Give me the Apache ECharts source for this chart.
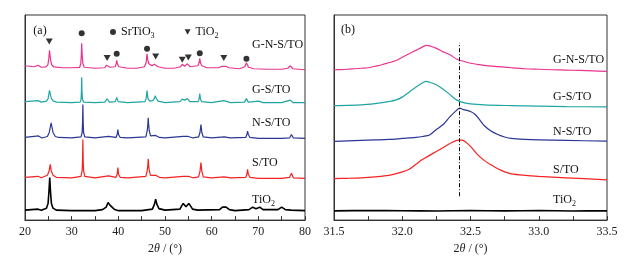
<!DOCTYPE html>
<html><head><meta charset="utf-8">
<script src="https://cdn.jsdelivr.net/npm/echarts@6/dist/echarts.min.js"></script>
<style>html,body{margin:0;padding:0;background:#fff}#c{width:624px;height:260px}</style>
</head><body><div id="c"></div>
<script>
// ---------- Panel (a): XRD patterns, 2θ 20–80°, intensity (a.u., stacked offsets) ----------
const aXTicks = [20, 30, 40, 50, 60, 70, 80];
const aGNSTO = [[20,155],[21,154.5],[22,154],[22.8,155.5],[23.5,153.5],[24.5,153.8],[24.9,156],[25.1,162],[25.25,170.5],[25.45,162],[25.7,156],[26.2,153.8],[28,153],[30,153],[31.7,153.3],[31.95,157],[32.07,166],[32.15,177.5],[32.25,166],[32.4,157],[32.7,153.5],[35,152.5],[37.1,153],[37.45,155.5],[37.6,157],[37.8,155],[38.2,153.5],[39.3,154],[39.55,157],[39.65,160.5],[39.8,157],[40.1,154],[42,152.5],[44,152.5],[45.6,154],[45.95,158],[46.05,163],[46.15,167],[46.3,161],[46.55,157],[47.2,155],[47.7,156.5],[47.9,158.5],[48.1,157],[48.5,154],[50,152.5],[52,152.5],[53.3,154],[53.7,156.5],[54.2,154.5],[54.8,157],[55.4,154],[57.05,155],[57.3,158],[57.45,162.5],[57.6,158],[57.9,155],[59,153],[61.5,153],[62.2,154.5],[62.6,155.5],[63.0,154.5],[63.7,153],[66,152],[67.1,154],[67.35,156],[67.45,158],[67.6,156],[67.9,153.5],[69,152],[72,151.5],[75,151.5],[76.3,152.5],[76.85,155],[77.4,152],[80,151]];
const aGSTO = [[20,119],[22.8,120],[23.5,118.5],[24.6,119.5],[24.95,122],[25.1,126],[25.25,130.3],[25.45,126],[25.65,122],[26.1,119.5],[26.8,118.5],[30,118],[31.8,118.5],[32.0,121],[32.08,128],[32.15,143.5],[32.22,128],[32.32,121],[32.6,118.5],[35,118],[37.1,118.5],[37.6,121.7],[38.1,118.5],[39.35,119],[39.65,123.3],[39.95,119],[42,118],[45.7,119],[45.95,122],[46.15,130],[46.35,122],[46.7,119.5],[47.4,120],[47.75,122.5],[47.9,125],[48.1,122.5],[48.5,119.5],[50,118],[53.2,119],[53.7,121.5],[54.2,120.5],[54.8,122],[55.3,119],[57.1,119],[57.3,121.5],[57.45,127],[57.6,121.5],[57.85,119],[60,118],[62.6,120],[64,118],[67.05,118.5],[67.45,122],[67.85,118.5],[70.1,119.5],[71,118],[75,118],[76.85,120.5],[77.4,118],[80,118]];
const aNSTO = [[20,83],[22.9,84.5],[23.6,82.5],[24.8,84],[25.2,88],[25.4,93],[25.6,97.7],[25.8,93],[26.0,88],[26.5,84],[27.2,83],[30,82.5],[32.0,83.5],[32.25,88],[32.33,98],[32.4,116],[32.47,98],[32.55,88],[32.8,83.5],[35,82.5],[37.9,84],[39.5,83],[39.75,86],[39.9,91],[40.05,86],[40.4,83],[42,82.5],[45.9,83.5],[46.2,90],[46.32,96],[46.4,102.7],[46.5,96],[46.62,90],[46.9,84.5],[48.0,85],[48.8,83],[50,82.5],[53.9,84],[55.0,84],[56,82.5],[57.2,83.5],[57.5,88],[57.7,96],[57.9,88],[58.2,83.5],[60,82.5],[62.7,83.5],[64,82.5],[67.3,83],[67.55,86],[67.7,89.3],[67.85,86],[68.2,83],[70,82],[75,82],[76.7,82.5],[77.1,86],[77.5,82.5],[80,82]];
const aSTO = [[20,43],[22.8,44],[23.5,42.5],[24.8,45],[25.15,49],[25.4,56],[25.65,49],[26.0,45],[26.7,43],[30,42.5],[32.0,44],[32.25,50],[32.33,60],[32.4,81],[32.47,60],[32.55,50],[32.8,44],[35,42.5],[37.9,44.5],[39.5,43],[39.75,46],[39.9,52.7],[40.05,46],[40.4,43],[42,42.5],[45.9,44],[46.2,50],[46.32,55],[46.4,61.7],[46.5,55],[46.62,50],[46.9,45],[48.0,45],[48.8,43],[50,42.5],[53.9,44],[55.0,44],[56,42.5],[57.2,43.5],[57.5,49],[57.7,57.7],[57.9,49],[58.2,43.5],[60,42.5],[62.7,43.5],[64,42.5],[67.3,43],[67.55,46],[67.7,51],[67.85,46],[68.2,43],[70,42],[75,42],[76.7,43],[77.1,47],[77.5,42.5],[80,42]];
const aTiO2 = [[20,10],[22.8,11],[23.5,10],[24.6,12],[24.95,17],[25.15,30],[25.3,42.7],[25.45,30],[25.65,17],[26.0,12],[26.7,10],[30,9.5],[35,9.5],[36.6,10.5],[37.0,12],[37.4,13],[37.8,17.7],[38.2,15],[38.6,15.5],[39.1,11],[40,9.5],[45,9.5],[47.3,11],[47.75,16],[48.0,21],[48.25,16],[48.7,11.5],[50,10],[53.2,11],[53.6,14.5],[53.9,16.7],[54.5,13.5],[55.1,16.7],[55.5,14],[55.9,11],[57,10],[61.7,10.5],[62.3,13],[62.7,15],[63.1,13],[63.8,10.5],[65,9.5],[68.0,10.5],[68.8,13],[69.5,11.5],[70.3,13],[71.0,10.5],[74.2,10.5],[75.0,13],[75.8,10.5],[77,10],[80,9.5]];
// phase markers (peak identification above the top pattern)
const srTiO3Peaks = [[32.15,187.7],[39.65,167],[46.15,172],[57.45,167.7],[67.45,162]];
const tiO2Peaks = [[25.2,179.3],[37.6,162.7],[48.0,164.3],[53.7,161],[55.0,163.3],[62.6,162.7]];

// ---------- Panel (b): zoom on SrTiO3 (110) peak, 2θ 31.5–33.5° ----------
const bXTicks = [31.5, 32.0, 32.5, 33.0, 33.5];
const bGNSTO = [[31.5,151],[31.55,151.2],[31.6,151.5],[31.65,152],[31.7,152.5],[31.75,153],[31.8,154.5],[31.85,156],[31.9,158],[31.95,160],[32.0,163.5],[32.05,167],[32.1,170.5],[32.15,174],[32.175,175.5],[32.2,175],[32.25,172.5],[32.3,169],[32.35,166],[32.4,161.5],[32.45,159.5],[32.5,157.5],[32.55,156.5],[32.6,155.5],[32.7,154.2],[32.8,153],[32.9,152],[33.0,151.5],[33.1,151],[33.2,150.7],[33.3,150.3],[33.4,149.8],[33.5,149.3]];
const bGSTO = [[31.5,115],[31.6,115.2],[31.7,115.7],[31.8,117],[31.85,118],[31.9,119],[31.95,120.5],[32.0,123.5],[32.05,128.5],[32.1,133.5],[32.15,138],[32.175,139.3],[32.2,138.5],[32.25,136],[32.3,131.5],[32.35,126],[32.4,120.5],[32.45,118],[32.5,116.7],[32.6,115.7],[32.8,115],[33.0,114.5],[33.2,114],[33.5,113.7]];
const bNSTO = [[31.5,79],[31.6,79.5],[31.7,80],[31.8,80.5],[31.9,81],[32.0,82],[32.1,83],[32.15,84],[32.2,85.5],[32.25,91],[32.3,96],[32.35,104],[32.4,110.5],[32.42,112.5],[32.45,111],[32.48,110],[32.5,109],[32.53,106.5],[32.56,102],[32.6,95],[32.65,89.5],[32.7,86],[32.75,83.5],[32.8,82],[32.9,81],[33.0,80.5],[33.2,80],[33.5,79.3]];
const bSTO = [[31.5,41.7],[31.6,42],[31.7,42.5],[31.8,43.5],[31.9,45],[32.0,48.5],[32.05,51],[32.1,56],[32.15,61],[32.2,65],[32.25,69],[32.3,73],[32.35,77],[32.4,80],[32.43,80.3],[32.46,79],[32.5,74],[32.55,66],[32.6,60],[32.65,55.5],[32.7,51.5],[32.75,48.5],[32.8,46.5],[32.9,45],[33.0,44],[33.2,42.5],[33.5,40.5]];
const bTiO2 = [[31.5,9.3],[31.75,9.6],[32.0,9.4],[32.25,9.2],[32.5,9.5],[32.75,9.3],[33.0,9.5],[33.25,9.2],[33.5,9.3]];
const refPeak = 32.42;           // dashed reference position
const refSpan = [24, 178];       // dashed line extent (intensity units)

const sampleNames = ['G-N-S/TO', 'G-S/TO', 'N-S/TO', 'S/TO', 'TiO{s|2}'];
const colors = ['#e8338f', '#1fa5a3', '#2a3796', '#f52222', '#000000'];

const FONT = '"Liberation Serif", "Times New Roman", serif';
const subRich = { s: { fontSize: 8, fontFamily: FONT, color: '#111', padding: [7, 0, 0, 0] } };

function xAxisCfg(idx, min, max, interval, decimals) {
  return {
    type: 'value', gridIndex: idx, min, max, interval,
    axisLine: { show: true, lineStyle: { color: '#333', width: 1 } },
    axisTick: { show: true, inside: true, length: 4, lineStyle: { color: '#333' } },
    minorTick: { show: true, splitNumber: 2, length: 4, lineStyle: { color: '#333' } },
    splitLine: { show: false },
    axisLabel: { fontFamily: FONT, fontSize: 12, color: '#222', margin: 6,
      formatter: v => v.toFixed(decimals) },
    name: '2{it|θ} / (°)', nameLocation: 'middle', nameGap: 20,
    nameTextStyle: { fontFamily: FONT, fontSize: 12, color: '#222',
      rich: { it: { fontFamily: FONT, fontSize: 12, fontStyle: 'italic', color: '#222' } } }
  };
}
function yAxisCfg(idx) {
  return {
    type: 'value', gridIndex: idx, min: 0, max: 206,
    axisLine: { show: true, lineStyle: { color: '#333' } },
    axisTick: { show: false }, axisLabel: { show: false }, splitLine: { show: false }
  };
}
function lineSeries(data, color, ax, width, smooth) {
  return { type: 'line', xAxisIndex: ax, yAxisIndex: ax, data, symbol: 'none', smooth: smooth || false,
    lineStyle: { color, width: width || 1.2 }, silent: true, z: 3 };
}

const aSets = [aGNSTO, aGSTO, aNSTO, aSTO, aTiO2];
const bSets = [bGNSTO, bGSTO, bNSTO, bSTO, bTiO2];
const series = [];
aSets.forEach((d, i) => series.push(lineSeries(d, colors[i], 0, i === 4 ? 1.6 : 1.2)));
bSets.forEach((d, i) => series.push(lineSeries(d, colors[i], 1, i === 4 ? 1.6 : 1.2, 0.3)));
series[8].markLine = {
  silent: true, symbol: 'none', label: { show: false },
  lineStyle: { color: '#000', width: 1, type: [4, 2, 1, 2] },
  data: [[{ coord: [refPeak, refSpan[0]] }, { coord: [refPeak, refSpan[1]] }]]
};
series.push({ type: 'scatter', name: 'SrTiO3', xAxisIndex: 0, yAxisIndex: 0, data: srTiO3Peaks,
  symbol: 'circle', symbolSize: 6, itemStyle: { color: '#000' }, z: 5 });
series.push({ type: 'scatter', name: 'TiO2', xAxisIndex: 0, yAxisIndex: 0, data: tiO2Peaks,
  symbol: 'triangle', symbolRotate: 180, symbolSize: [7, 6], itemStyle: { color: '#000' }, z: 5 });

const aLabelY = [45, 90, 123, 163, 200];
const bLabelY = [60, 97, 132, 170, 200];
const graphics = [
  { type: 'text', x: 40, y: 31, style: { text: '(a)', font: '12px ' + FONT, fill: '#111', textAlign: 'center', textVerticalAlign: 'middle' } },
  { type: 'text', x: 348, y: 30, style: { text: '(b)', font: '12px ' + FONT, fill: '#111', textAlign: 'center', textVerticalAlign: 'middle' } }
];
sampleNames.forEach((n, i) => {
  graphics.push({ type: 'text', x: 252, y: aLabelY[i], z: 10,
    style: { text: n, font: '12px ' + FONT, fill: '#111', textVerticalAlign: 'middle', rich: subRich } });
  graphics.push({ type: 'text', x: 553, y: bLabelY[i], z: 10,
    style: { text: n, font: '12px ' + FONT, fill: '#111', textVerticalAlign: 'middle', rich: subRich } });
});

const chart = echarts.init(document.getElementById('c'), null, { renderer: 'canvas' });
chart.setOption({
  animation: false,
  backgroundColor: '#fff',
  grid: [
    { left: 25, right: 319, top: 15, bottom: 39, show: true, borderColor: '#333', borderWidth: 1 },
    { left: 334, right: 17, top: 15, bottom: 39, show: true, borderColor: '#333', borderWidth: 1 }
  ],
  xAxis: [xAxisCfg(0, aXTicks[0], aXTicks[aXTicks.length - 1], 10, 0),
          xAxisCfg(1, bXTicks[0], bXTicks[bXTicks.length - 1], 0.5, 1)],
  yAxis: [yAxisCfg(0), yAxisCfg(1)],
  legend: {
    left: 110, top: 26, padding: 0, itemWidth: 6, itemHeight: 6, itemGap: 30,
    data: [{ name: 'SrTiO3', icon: 'circle' }, { name: 'TiO2', icon: 'path://M0,0L10,0L5,9Z' }],
    formatter: n => n === 'SrTiO3' ? 'SrTiO{s|3}' : 'TiO{s|2}',
    textStyle: { fontFamily: FONT, fontSize: 12, color: '#111', rich: subRich },
    selectedMode: false
  },
  graphic: graphics,
  series
});
</script></body></html>
